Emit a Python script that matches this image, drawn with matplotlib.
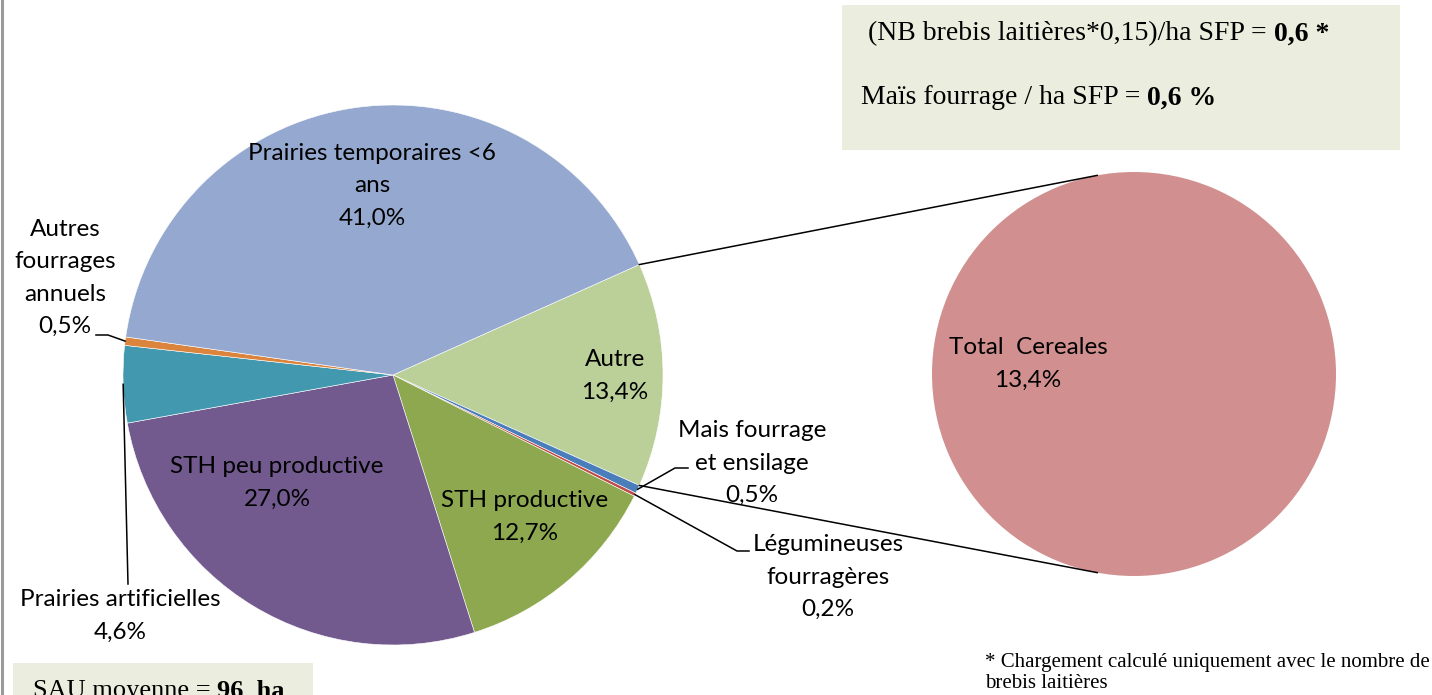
import matplotlib.pyplot as plt
import numpy as np

# data (main pie, clockwise from "Autre")
labels = ['Autre', 'Mais fourrage\net ensilage', 'Légumineuses\nfourragères',
          'STH productive', 'STH peu productive', 'Prairies artificielles',
          'Autres\nfourrages\nannuels', 'Prairies temporaires <6\nans']
values = [13.4, 0.5, 0.2, 12.7, 27.0, 4.6, 0.5, 41.0]
colors = ['#BBCF98', '#4A7EBB', '#BE4B48', '#8DA84F', '#725A8F', '#4198AF',
          '#DB843D', '#95A9D0']

sub_labels = ['Total  Cereales']
sub_values = [13.4]
sub_colors = ['#D1908F']

H = 695


def Y(y):
    # image-style y (from top) -> axes y
    return H - y


def pct(v):
    return ('%.1f' % v).replace('.', ',') + '%'


fig = plt.figure(figsize=(14.32, 6.95), dpi=100)
ax = fig.add_axes([0, 0, 1, 1])

c_main = (393, Y(375))
r_main = 270
c_sub = (1134, Y(374))
r_sub = 202

start = values[0] / sum(values) * 360 / 2
wedges, _ = ax.pie(values, colors=colors, startangle=start, counterclock=False,
                   center=c_main, radius=r_main,
                   wedgeprops=dict(edgecolor='white', linewidth=0.4))
ax.pie(sub_values, colors=sub_colors, center=c_sub, radius=r_sub,
       wedgeprops=dict(linewidth=0))

ax.set_xlim(0, 1432)
ax.set_ylim(0, H)
ax.set_aspect('equal')
ax.axis('off')


def edge_pt(center, r, ang):
    a = np.deg2rad(ang)
    return center[0] + r * np.cos(a), center[1] + r * np.sin(a)


# connector lines to the secondary pie
w0 = wedges[0]
p_top = edge_pt(c_main, r_main, max(w0.theta1, w0.theta2))
p_bot = edge_pt(c_main, r_main, min(w0.theta1, w0.theta2))
q_top = edge_pt(c_sub, r_sub, 100.5)
q_bot = edge_pt(c_sub, r_sub, -100.5)
ax.plot([p_top[0], q_top[0]], [p_top[1], q_top[1]], color='black', lw=1.1)
ax.plot([p_bot[0], q_bot[0]], [p_bot[1], q_bot[1]], color='black', lw=1.1)

lab_font = dict(family='Lato', fontsize=17.5, color='black', ha='center',
                va='center', linespacing=1.65)

# label positions (center of text block, image coords)
lab_pos = [(615, 376), (752, 463), (828, 577), (525, 517), (277, 483),
           (120, 616), (65, 278), (372, 186)]
for lab, v, (x, y) in zip(labels, values, lab_pos):
    ax.text(x, Y(y), lab + '\n' + pct(v), **lab_font)

ax.text(1028, Y(364), sub_labels[0] + '\n' + pct(sub_values[0]), **lab_font)


def mid(w):
    return (w.theta1 + w.theta2) / 2


# leader lines for small slices
def leader(w, pts):
    p = edge_pt(c_main, r_main, mid(w))
    xs = [p[0]] + [a for a, b in pts]
    ys = [p[1]] + [Y(b) for a, b in pts]
    ax.plot(xs, ys, color='black', lw=1.1)


leader(wedges[1], [(675, 468), (688, 468)])
leader(wedges[2], [(737, 551), (749, 551)])
leader(wedges[5], [(128, 584)])
leader(wedges[6], [(108, 335), (96, 335)])

# info boxes
ax.add_patch(plt.Rectangle((842, Y(150)), 558, 145, color='#EBEEDE', lw=0))
ax.add_patch(plt.Rectangle((13, Y(700)), 300, 37, color='#EBEEDE', lw=0))
ax.plot([2, 2], [0, H], color='#9A9A9A', lw=2.2)

renderer = fig.canvas.get_renderer()


def rich(x, y, parts, size):
    for txt, wt in parts:
        t = ax.text(x, Y(y), txt, family='Liberation Serif', fontsize=size,
                    fontweight=wt, va='center', ha='left', color='black')
        bb = t.get_window_extent(renderer)
        x = bb.x1


rich(868, 34, [('(NB brebis laitières*0,15)/ha SFP = ', 'normal'),
               ('0,6 *', 'bold')], 20)
rich(861, 98, [('Maïs fourrage / ha SFP = ', 'normal'),
               ('0,6 %', 'bold')], 20)
rich(33, 691, [('SAU moyenne = ', 'normal'), ('96  ha', 'bold')], 19)

ax.text(985, Y(662), '* Chargement calculé uniquement avec le nombre de',
        family='Liberation Serif', fontsize=15, va='center', ha='left')
ax.text(985, Y(684), 'brebis laitières',
        family='Liberation Serif', fontsize=15, va='center', ha='left')

fig.savefig('out.png', dpi=100)
